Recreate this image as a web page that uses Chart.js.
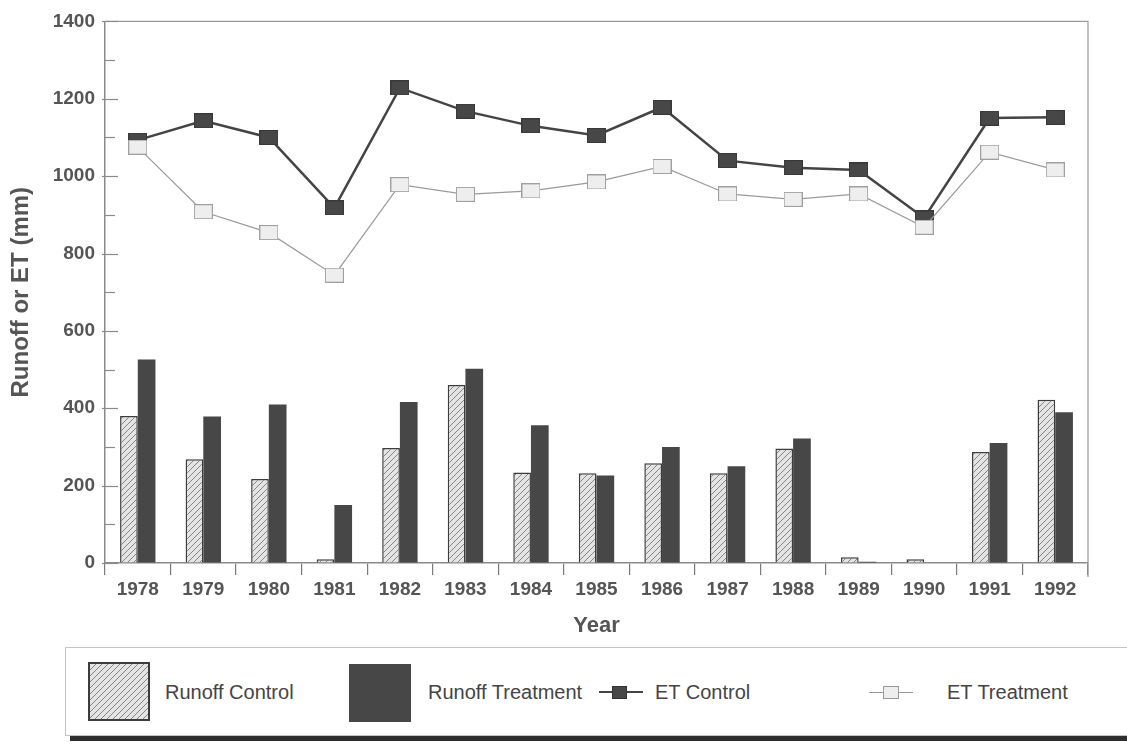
<!DOCTYPE html>
<html>
<head>
<meta charset="utf-8">
<script src="https://cdn.jsdelivr.net/npm/chart.js@4/dist/chart.umd.min.js"></script>
<style>
  html, body { margin: 0; padding: 0; background: #fff; }
  body { width: 1127px; height: 745px; position: relative; overflow: hidden; font-family: "Liberation Sans", Arial, sans-serif; }
  #wrap { position: absolute; left: 0; top: 0; width: 1127px; height: 745px; }
  #legend { position: absolute; left: 65px; top: 647px; width: 1080px; height: 87px; border: 1px solid #c4c4c4; background: #fff; }
  #legendShadow { position: absolute; left: 70px; top: 735px; width: 1070px; height: 6px; background: #2e2e2e; }
  .sw { position: absolute; box-sizing: border-box; }
  .lbl { position: absolute; font-size: 20px; color: #444; line-height: 24px; white-space: nowrap; }
  .ln { position: absolute; }
</style>
</head>
<body>
<div id="wrap"><canvas id="chart" width="1127" height="745"></canvas></div>
<div id="legendShadow"></div>
<div id="legend">
  <div class="sw" id="swControl" style="left:22px;top:14px;width:62px;height:59px;border:2px solid #3c3c3c;"></div>
  <div class="lbl" style="left:99px;top:32px;">Runoff Control</div>
  <div class="sw" style="left:283px;top:16px;width:62px;height:58px;background:#474747;"></div>
  <div class="lbl" style="left:362px;top:32px;">Runoff Treatment</div>
  <div class="ln" style="left:533px;top:43px;width:44px;height:2px;background:#444;"></div>
  <div class="sw" style="left:546px;top:38px;width:15px;height:13px;background:#474747;border:1px solid #333;"></div>
  <div class="lbl" style="left:589px;top:32px;">ET Control</div>
  <div class="ln" style="left:803px;top:44px;width:44px;height:1px;background:#999;"></div>
  <div class="sw" style="left:817px;top:38px;width:16px;height:13px;background:#eee;border:1px solid #999;"></div>
  <div class="lbl" style="left:881px;top:32px;">ET Treatment</div>
</div>
<script>
// Données
const years = ['1978', '1979', '1980', '1981', '1982', '1983', '1984', '1985', '1986', '1987', '1988', '1989', '1990', '1991', '1992'];
const runoffControl = [380, 268, 217, 10, 297, 460, 234, 232, 258, 232, 296, 15, 10, 287, 422];
const runoffTreatment = [526, 379, 410, 150, 416, 502, 356, 226, 300, 250, 322, 3, 0, 310, 390];
const etControl = [1093, 1143, 1100, 918, 1228, 1168, 1130, 1105, 1178, 1040, 1022, 1016, 892, 1150, 1152];
const etTreatment = [1075, 908, 854, 744, 978, 953, 962, 985, 1025, 954, 940, 954, 868, 1062, 1016];
const yTicks = [0, 200, 400, 600, 800, 1000, 1200, 1400];

// Motif hachuré pour les barres "Control"
function makeHatch() {
    const c = document.createElement('canvas');
    c.width = 6; c.height = 6;
    const g = c.getContext('2d');
    g.fillStyle = '#e4e4e4';
    g.fillRect(0, 0, 6, 6);
    g.strokeStyle = '#858585';
    g.lineWidth = 1;
    g.beginPath();
    g.moveTo(0, 6); g.lineTo(6, 0);
    g.moveTo(-3, 3); g.lineTo(3, -3);
    g.moveTo(3, 9); g.lineTo(9, 3);
    g.stroke();
    return c;
}
const hatchCanvas = makeHatch();
const ctx = document.getElementById('chart').getContext('2d');
const hatch = ctx.createPattern(hatchCanvas, 'repeat');
document.getElementById('swControl').style.background = 'url(' + hatchCanvas.toDataURL() + ')';

// Marqueurs rectangulaires
function makeMarker(fill, stroke) {
    const c = document.createElement('canvas');
    c.width = 19; c.height = 15;
    const g = c.getContext('2d');
    g.fillStyle = fill;
    g.fillRect(0, 0, 19, 15);
    g.strokeStyle = stroke;
    g.lineWidth = 1;
    g.strokeRect(0.5, 0.5, 18, 14);
    return c;
}
const markControl = makeMarker('#474747', '#383838');
const markTreatment = makeMarker('#eeeeee', '#a0a0a0');

// Cadre du graphique et graduations internes de l'axe Y
const framePlugin = {
    id: 'frame',
    afterDatasetsDraw(chart) {
        const { ctx, chartArea, scales } = chart;
        ctx.save();
        ctx.strokeStyle = '#9a9a9a';
        ctx.lineWidth = 1.2;
        ctx.beginPath();
        ctx.moveTo(chartArea.left, chartArea.top);
        ctx.lineTo(chartArea.right, chartArea.top);
        ctx.lineTo(chartArea.right, chartArea.bottom + 14);
        ctx.stroke();
        ctx.strokeStyle = '#8a8a8a';
        ctx.lineWidth = 1.2;
        for (let v = 0; v <= 1400; v += 100) {
            const y = Math.round(scales.y.getPixelForValue(v)) + 0.5;
            const major = v % 200 === 0;
            ctx.beginPath();
            ctx.moveTo(chartArea.left - (major ? 3 : 0), y);
            ctx.lineTo(chartArea.left + (major ? 13 : 10), y);
            ctx.stroke();
        }
        ctx.restore();
    }
};

new Chart(ctx, {
    data: {
        labels: years,
        datasets: [
            {
                type: 'line',
                label: 'ET Treatment',
                data: etTreatment,
                borderColor: '#9a9a9a',
                borderWidth: 1.2,
                pointStyle: markTreatment,
                pointRadius: 9,
                order: 1
            },
            {
                type: 'line',
                label: 'ET Control',
                data: etControl,
                borderColor: '#444',
                borderWidth: 2.5,
                pointStyle: markControl,
                pointRadius: 9,
                order: 2
            },
            {
                type: 'bar',
                label: 'Runoff Control',
                data: runoffControl,
                backgroundColor: hatch,
                borderColor: '#3c3c3c',
                borderWidth: 1.5,
                categoryPercentage: 0.54,
                barPercentage: 1.0,
                order: 3
            },
            {
                type: 'bar',
                label: 'Runoff Treatment',
                data: runoffTreatment,
                backgroundColor: '#474747',
                borderWidth: 0,
                categoryPercentage: 0.54,
                barPercentage: 1.0,
                order: 3
            }
        ]
    },
    options: {
        responsive: false,
        animation: false,
        layout: { padding: { left: 0, top: 17, right: 39, bottom: 102 } },
        plugins: {
            legend: { display: false },
            tooltip: { enabled: false }
        },
        scales: {
            x: {
                type: 'category',
                offset: true,
                grid: { offset: true, drawOnChartArea: false, tickLength: 12, color: '#7a7a7a', lineWidth: 1.2 },
                border: { display: true, color: '#8a8a8a', width: 1.5 },
                ticks: { color: '#555', font: { family: 'Liberation Sans', size: 19, weight: 'bold' }, padding: 3, maxRotation: 0, autoSkip: false },
                title: { display: true, text: 'Year', color: '#555', font: { family: 'Liberation Sans', size: 22, weight: 'bold' }, padding: { top: 3 } },
                afterFit(scale) { scale.height = 80; }
            },
            y: {
                min: 0,
                max: 1400,
                afterBuildTicks(scale) { scale.ticks = yTicks.map(v => ({ value: v })); },
                grid: { drawOnChartArea: false, drawTicks: false },
                border: { display: true, color: '#8a8a8a', width: 1.5 },
                ticks: { color: '#555', font: { family: 'Liberation Sans', size: 19, weight: 'bold' }, padding: 10, callback: v => String(v) },
                title: { display: true, text: 'Runoff or ET (mm)', color: '#555', font: { family: 'Liberation Sans', size: 24, weight: 'bold' }, padding: { top: 7 } },
                afterFit(scale) { scale.width = 105; }
            }
        }
    },
    plugins: [framePlugin]
});
</script>
</body>
</html>
